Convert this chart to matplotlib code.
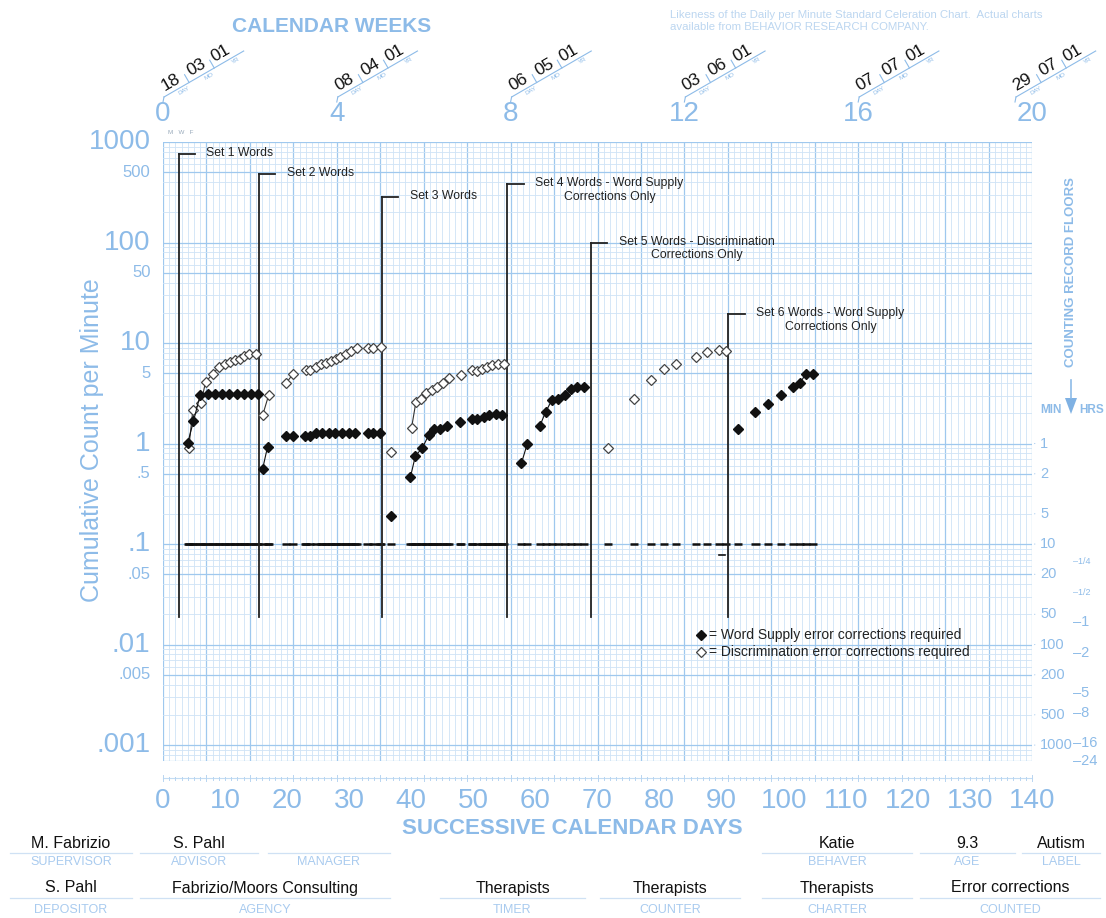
import numpy as np
import matplotlib
matplotlib.use("Agg")
import matplotlib.pyplot as plt

plt.rcParams['font.family'] = ['Liberation Sans', 'DejaVu Sans']

W, H = 1106, 918
X0, X1 = 163, 1032          # pixel span of days 0..140
Y_TOP, Y_BOT = 142, 761     # pixel span of 1000 .. 1/1440 per minute

BLUE = '#8dbbe8'
BLUE_DARK = '#7fb1e3'
GRID_MINOR = '#cfe3f6'
GRID_MAJOR = '#9fc8ee'
INK = '#111111'

# ---- data: Word Supply corrections (filled) and Discrimination (open) ----
set1_ws_days = [4.0, 4.9, 6.0, 7.2, 8.4, 9.5, 10.7, 11.9, 13.0, 14.2, 15.3]
set1_ws_vals = [1.02, 1.66, 3.07, 3.1, 3.1, 3.1, 3.1, 3.1, 3.1, 3.1, 3.1]
set1_di_days = [4.15, 4.8, 6.15, 6.85, 8.0, 9.0, 10.05, 10.85, 11.65, 12.45, 13.1, 13.9, 15.0]
set1_di_vals = [0.9, 2.14, 2.55, 4.1, 4.9, 5.8, 6.15, 6.45, 6.75, 7.0, 7.4, 7.75, 7.75]

set2_ws_days = [16.05, 16.85, 19.85, 21.0, 22.95, 23.7, 24.65, 25.6, 26.7, 27.7,
                28.85, 29.9, 31.0, 32.95, 33.9, 34.95]
set2_ws_vals = [0.56, 0.93, 1.18, 1.18, 1.18, 1.2, 1.28, 1.28, 1.28, 1.28,
                1.28, 1.28, 1.28, 1.28, 1.28, 1.28]
set2_di_days = [16.05, 17.05, 19.85, 21.0, 23.05, 23.7, 24.65, 25.45, 26.25, 27.05,
                27.85, 28.5, 29.5, 30.3, 31.2, 32.95, 33.9, 35.1]
set2_di_vals = [1.91, 3.07, 4.0, 4.97, 5.36, 5.45, 5.8, 6.15, 6.35, 6.65,
                6.95, 7.3, 7.75, 8.35, 9.0, 8.95, 9.0, 9.2]

set3_ws_days = [36.8, 39.85, 40.65, 41.8, 42.8, 43.7, 44.65, 45.75, 47.85, 49.75,
                50.65, 51.75, 52.55, 53.6, 54.6]
set3_ws_vals = [0.19, 0.46, 0.75, 0.91, 1.21, 1.38, 1.41, 1.49, 1.64, 1.74,
                1.74, 1.84, 1.92, 1.96, 1.94]
set3_di_days = [36.8, 40.05, 40.75, 41.55, 42.45, 43.4, 44.2, 45.05, 46.1, 48.0,
                49.85, 50.65, 51.45, 52.25, 53.05, 53.9, 54.95]
set3_di_vals = [0.83, 1.44, 2.6, 2.8, 3.19, 3.39, 3.66, 4.0, 4.44, 4.78,
                5.36, 5.3, 5.57, 5.8, 6.0, 6.25, 6.25]

set4_ws_days = [57.75, 58.7, 60.7, 61.65, 62.65, 63.65, 64.75, 65.7, 66.75, 67.8]
set4_ws_vals = [0.64, 1.0, 1.49, 2.07, 2.7, 2.76, 3.03, 3.45, 3.66, 3.66]

set5_di_days = [71.75, 75.85, 78.65, 80.7, 82.7, 85.8, 87.65, 89.55, 90.65]
set5_di_vals = [0.91, 2.76, 4.3, 5.5, 6.25, 7.18, 8.17, 8.5, 8.4]

set6_ws_days = [92.6, 95.45, 97.5, 99.6, 101.5, 102.6, 103.55, 104.7]
set6_ws_vals = [1.41, 2.07, 2.5, 3.03, 3.66, 4.0, 4.89, 4.89]

WS_SERIES = [(set1_ws_days, set1_ws_vals), (set2_ws_days, set2_ws_vals),
             (set3_ws_days, set3_ws_vals), (set4_ws_days, set4_ws_vals),
             (set6_ws_days, set6_ws_vals)]
DI_SERIES = [(set1_di_days, set1_di_vals), (set2_di_days, set2_di_vals),
             (set3_di_days, set3_di_vals), (set5_di_days, set5_di_vals)]

FLOOR_VALUE = 0.1          # 10 minute counting floor
STRAY_FLOOR = (90.0, 0.078)

# phase change lines
PHASE_DAYS = [2.5, 15.5, 35.3, 55.5, 69.0, 91.1]
PHASE_TOPS = [760, 480, 283, 382, 100, 19.4]
PHASE_BOTTOM = 0.019
PHASE_LABELS = ["Set 1 Words", "Set 2 Words", "Set 3 Words",
                "Set 4 Words - Word Supply\nCorrections Only",
                "Set 5 Words - Discrimination\nCorrections Only",
                "Set 6 Words - Word Supply\nCorrections Only"]

# axis labelling
Y_BIG = [1000, 100, 10, 1, 0.1, 0.01, 0.001]
Y_BIG_TXT = ['1000', '100', '10', '1', '.1', '.01', '.001']
Y_SMALL = [500, 50, 5, 0.5, 0.05, 0.005]
Y_SMALL_TXT = ['500', '50', '5', '.5', '.05', '.005']
DAY_TICKS = list(range(0, 141, 10))
WEEK_TICKS = [0, 4, 8, 12, 16, 20]
WEEK_DATES = [("18", "03", "01"), ("08", "04", "01"), ("06", "05", "01"),
              ("03", "06", "01"), ("07", "07", "01"), ("29", "07", "01")]
FLOOR_MINUTES = [1, 2, 5, 10, 20, 50, 100, 200, 500, 1000]
FLOOR_HOURS = [0.25, 0.5, 1, 2, 5, 8, 16, 24]
FLOOR_HOURS_TXT = ['1/4', '1/2', '1', '2', '5', '8', '16', '24']

FORM_ROW1 = [("M. Fabrizio", "SUPERVISOR", 10, 132), ("S. Pahl", "ADVISOR", 140, 258),
             ("", "MANAGER", 268, 390), ("Katie", "BEHAVER", 762, 912),
             ("9.3", "AGE", 920, 1015), ("Autism", "LABEL", 1022, 1100)]
FORM_ROW2 = [("S. Pahl", "DEPOSITOR", 10, 132),
             ("Fabrizio/Moors Consulting", "AGENCY", 140, 390),
             ("Therapists", "TIMER", 440, 585), ("Therapists", "COUNTER", 600, 740),
             ("Therapists", "CHARTER", 762, 912),
             ("Error corrections", "COUNTED", 920, 1100)]


def day_px(d):
    return X0 + d * (X1 - X0) / 140.0


def runs(days, vals, gap=1.5):
    """Split a series wherever consecutive sessions are more than `gap` days apart."""
    out, cur = [], [0]
    for i in range(1, len(days)):
        if days[i] - days[i - 1] > gap:
            out.append(cur)
            cur = []
        cur.append(i)
    out.append(cur)
    return [([days[i] for i in r], [vals[i] for i in r]) for r in out]


def pixel_axes(z):
    a = fig.add_axes([0, 0, 1, 1], zorder=z)
    a.set_xlim(0, W)
    a.set_ylim(H, 0)
    a.axis('off')
    return a


fig = plt.figure(figsize=(W / 100, H / 100), dpi=100)
deco = pixel_axes(0)

ax = fig.add_axes([X0 / W, 1 - Y_BOT / H, (X1 - X0) / W, (Y_BOT - Y_TOP) / H], zorder=1)
ax.set_xlim(0, 140)
ax.set_yscale('log')
ax.set_ylim(1 / 1440, 1000)
ax.axis('off')

front = pixel_axes(2)

# ---- grid ----
for d in range(0, 141):
    major = d % 7 == 0
    ax.axvline(d, color=GRID_MAJOR if major else GRID_MINOR,
               lw=0.9 if major else 0.6, zorder=0)
for dec in range(-4, 3):
    for m in range(1, 10):
        v = m * 10.0 ** dec
        if v < 1 / 1440 or v > 1000:
            continue
        major = m in (1, 5)
        ax.axhline(v, color=GRID_MAJOR if major else GRID_MINOR,
                   lw=0.9 if major else 0.6, zorder=0)
ax.axhline(1000, color=GRID_MAJOR, lw=0.9, zorder=0)
ax.axhline(1 / 1440, color=GRID_MAJOR, lw=0.9, zorder=0)

# ---- record floors: one dash per session day ----
session_days = sorted(set(d for days, _ in WS_SERIES + DI_SERIES for d in days))
for d in session_days:
    ax.plot([d - 0.65, d + 0.65], [FLOOR_VALUE, FLOOR_VALUE], color=INK, lw=1.8,
            solid_capstyle='butt', zorder=3)
ax.plot([STRAY_FLOOR[0] - 0.5, STRAY_FLOOR[0] + 0.5], [STRAY_FLOOR[1]] * 2,
        color=INK, lw=1.2, zorder=3)

# ---- phase change lines ----
for d, top, label in zip(PHASE_DAYS, PHASE_TOPS, PHASE_LABELS):
    ax.plot([d, d], [PHASE_BOTTOM, top], color='#222222', lw=1.3, zorder=3)
    ax.plot([d, d + 2.6], [top, top], color='#222222', lw=1.3, zorder=3)
    ax.annotate(label, xy=(d, top), xytext=(20, 5), textcoords='offset points',
                ha='left', va='top', multialignment='center', fontsize=8.8,
                color='#222222', zorder=4)

# ---- data ----
for days, vals in DI_SERIES:
    for rd, rv in runs(days, vals):
        ax.plot(rd, rv, color='#333333', lw=0.8, marker='D', ms=4.6,
                mfc='white', mec='#444444', mew=0.9, zorder=5)
for days, vals in WS_SERIES:
    for rd, rv in runs(days, vals):
        ax.plot(rd, rv, color=INK, lw=0.8, marker='D', ms=4.6,
                mfc=INK, mec=INK, zorder=6)

# ---- left count-per-minute scale ----
for v, t in zip(Y_BIG, Y_BIG_TXT):
    ax.annotate(t, xy=(0, v), xycoords=('axes fraction', 'data'), xytext=(-9, 0),
                textcoords='offset points', ha='right', va='center',
                fontsize=20, color=BLUE)
for v, t in zip(Y_SMALL, Y_SMALL_TXT):
    ax.annotate(t, xy=(0, v), xycoords=('axes fraction', 'data'), xytext=(-9, 0),
                textcoords='offset points', ha='right', va='center',
                fontsize=12, color=BLUE)
deco.text(92, 440, "Cumulative Count per Minute", rotation=90, ha='center',
          va='center', fontsize=18, color=BLUE)

# ---- right counting record floor scale ----
for m in FLOOR_MINUTES:
    ax.annotate(str(m), xy=(1, 1.0 / m), xycoords=('axes fraction', 'data'),
                xytext=(6, 0), textcoords='offset points', ha='left', va='center',
                fontsize=10.5, color=BLUE)
    ax.annotate('', xy=(1, 1.0 / m), xycoords=('axes fraction', 'data'),
                xytext=(4, 0), textcoords='offset points',
                arrowprops=dict(arrowstyle='-', color=BLUE, lw=0.8))
for h, t in zip(FLOOR_HOURS, FLOOR_HOURS_TXT):
    small = h < 1
    ax.annotate('\u2013' + t, xy=(1, 1.0 / (h * 60)), xycoords=('axes fraction', 'data'),
                xytext=(29.5, 0), textcoords='offset points', ha='left', va='center',
                fontsize=6.5 if small else 10.5, color=BLUE)
deco.text(1071, 272, "COUNTING RECORD FLOORS", rotation=90, ha='center', va='center',
          fontsize=9.5, fontweight='bold', color=BLUE)
deco.plot([1071, 1071], [380, 398], color=BLUE, lw=1.2)
deco.fill([1065, 1077, 1071], [398, 398, 414], color=BLUE_DARK, lw=0)
deco.text(1051, 410, "MIN", ha='center', va='center', fontsize=8.5,
          fontweight='bold', color=BLUE)
deco.text(1092, 410, "HRS", ha='center', va='center', fontsize=8.5,
          fontweight='bold', color=BLUE)

# ---- bottom day scale ----
deco.plot([X0, X1], [778, 778], color='#c3dcf3', lw=0.8)
for d in range(0, 141):
    h = 3 if d % 7 == 0 else 1.5
    deco.plot([day_px(d)] * 2, [778 - h, 778 + h], color='#b8d5f1', lw=0.7)
for d in DAY_TICKS:
    ax.annotate(str(d), xy=(d, 0), xycoords=('data', 'axes fraction'),
                xytext=(0, -28.5), textcoords='offset points', ha='center',
                va='center', fontsize=20, color=BLUE)
deco.text(572, 829, "SUCCESSIVE CALENDAR DAYS", ha='center', va='center',
          fontsize=16, fontweight='bold', color=BLUE)

# ---- top calendar weeks ----
deco.text(332, 26, "CALENDAR WEEKS", ha='center', va='center', fontsize=15,
          fontweight='bold', color=BLUE)
for w in WEEK_TICKS:
    ax.annotate(str(w), xy=(7 * w, 1), xycoords=('data', 'axes fraction'),
                xytext=(0, 20), textcoords='offset points', ha='center',
                va='center', fontsize=20, color=BLUE)

ang = np.deg2rad(30)
u = np.array([np.cos(ang), -np.sin(ang)])
n_up = np.array([-np.sin(ang), -np.cos(ang)])
for w, (dd, mo, yr) in zip(WEEK_TICKS, WEEK_DATES):
    start = day_px(7 * w) + 1
    start = min(start, W - 90)          # keep the last stamp on the sheet
    p0 = np.array([start, 97.0])
    p1 = p0 + 92 * u
    deco.plot([p0[0], p1[0]], [p0[1], p1[1]], color=BLUE, lw=0.8)
    deco.plot([p0[0], p0[0] - 1], [p0[1], p0[1] + 5], color=BLUE, lw=0.8)
    for s in (29, 58):
        a = p0 + s * u
        b = a + 9 * n_up
        deco.plot([a[0], b[0]], [a[1], b[1]], color=BLUE, lw=0.8)
    for s, t in ((13, dd), (43, mo), (71, yr)):
        q = p0 + s * u + 2 * n_up
        deco.text(q[0], q[1], t, rotation=30, rotation_mode='anchor', ha='center',
                  va='bottom', fontsize=12.5, color=INK)
    for s, t in ((20, "DAY"), (49, "MO"), (80, "YR")):
        q = p0 + s * u - 2 * n_up
        deco.text(q[0], q[1], t, rotation=30, rotation_mode='anchor', ha='center',
                  va='top', fontsize=4.5, color=BLUE)

deco.text(168, 133, "M   W   F", ha='left', va='center', fontsize=4.5, color='#9ab')
deco.text(670, 21, "Likeness of the Daily per Minute Standard Celeration Chart.  Actual charts\n"
          "available from BEHAVIOR RESEARCH COMPANY.", ha='left', va='center',
          fontsize=8.2, color='#bcd6f0', linespacing=1.25)

# ---- legend (drawn above the grid) ----
front.plot([701], [635], marker='D', ms=4.6, color=INK, ls='none')
front.plot([701], [652], marker='D', ms=4.6, mfc='white', mec='#444444', mew=0.9, ls='none')
front.text(709, 635, "= Word Supply error corrections required", ha='left',
           va='center', fontsize=10, color='#222222')
front.text(709, 652, "= Discrimination error corrections required", ha='left',
           va='center', fontsize=10, color='#222222')

# ---- form fields ----
for row, (y_txt, y_line, y_lab) in ((FORM_ROW1, (843, 853, 862)),
                                     (FORM_ROW2, (888, 898, 910))):
    for val, lab, xa, xb in row:
        xc = (xa + xb) / 2
        deco.plot([xa, xb], [y_line, y_line], color='#cfe1f4', lw=0.9)
        if val:
            deco.text(xc, y_txt, val, ha='center', va='center', fontsize=11.5,
                      color=INK)
        deco.text(xc, y_lab, lab, ha='center', va='center', fontsize=9,
                  color='#a9cbef')

fig.savefig("out.png", dpi=100)
